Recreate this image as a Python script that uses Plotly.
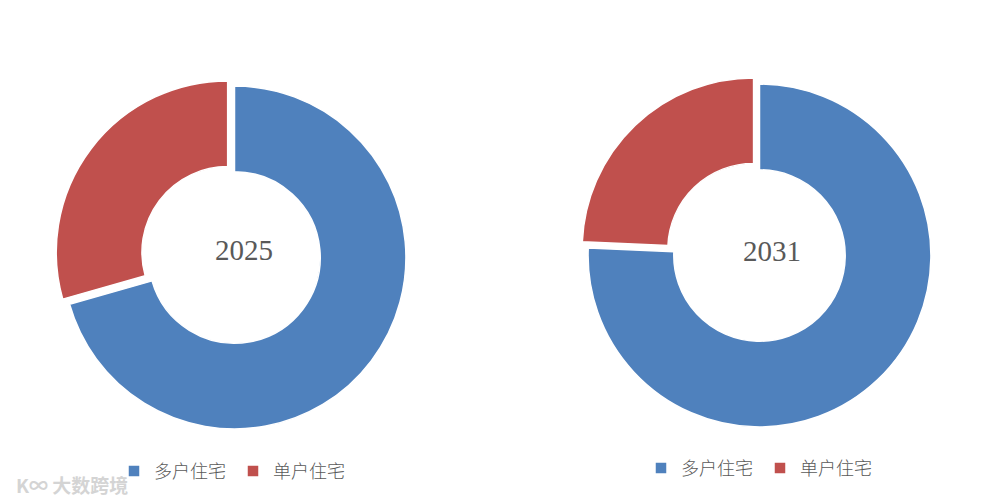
import plotly.graph_objects as go

labels_2025 = ["多户住宅", "单户住宅"]
labels_2031 = ["多户住宅\u200b", "单户住宅\u200b"]
values_2025 = [70.6, 29.4]
values_2031 = [75.7, 24.3]
years = ["2025", "2031"]
colors = ["#4F81BD", "#C0504D"]

W, H = 988, 502


def dom(cx, cy, half):
    return dict(x=[(cx - half) / W, (cx + half) / W],
                y=[1 - (cy + half) / H, 1 - (cy - half) / H])


common = dict(
    hole=0.5,
    sort=False,
    direction="clockwise",
    rotation=0,
    pull=[0, 0.05],
    textinfo="none",
    hoverinfo="label+percent",
    marker=dict(colors=colors, line=dict(color="white", width=1.5)),
)

fig = go.Figure()
fig.add_trace(go.Pie(labels=labels_2025, values=values_2025, name=years[0],
                     domain=dom(226.5, 249.5, 180), legend="legend", **common))
fig.add_trace(go.Pie(labels=labels_2031, values=values_2031, name=years[1],
                     domain=dom(751.5, 247.5, 180), legend="legend2", **common))

legend_font = dict(family="Noto Sans CJK SC", size=18, color="#595959", weight=300)
fig.update_layout(
    width=W, height=H,
    margin=dict(l=0, r=0, t=0, b=0),
    paper_bgcolor="white",
    plot_bgcolor="white",
    showlegend=True,
    legend=dict(orientation="h", x=106 / W, y=0.077, xanchor="left", yanchor="middle",
                font=legend_font, entrywidth=74, entrywidthmode="pixels",
                bgcolor="rgba(0,0,0,0)"),
    legend2=dict(orientation="h", x=633 / W, y=0.083, xanchor="left", yanchor="middle",
                 font=legend_font, entrywidth=74, entrywidthmode="pixels",
                 bgcolor="rgba(0,0,0,0)"),
    annotations=[
        dict(text=years[0], x=236 / W, y=1 - 242 / H, xref="paper", yref="paper",
             xanchor="center", yanchor="middle", showarrow=False,
             font=dict(family="Liberation Serif", size=29, color="#595959")),
        dict(text=years[1], x=764 / W, y=1 - 243 / H, xref="paper", yref="paper",
             xanchor="center", yanchor="middle", showarrow=False,
             font=dict(family="Liberation Serif", size=29, color="#595959")),
        dict(text="<b>K∞ 大数跨境</b>", x=6 / W, y=1 - 476 / H, xref="paper", yref="paper",
             xanchor="left", yanchor="middle", showarrow=False,
             font=dict(family="Noto Sans CJK SC", size=19, color="#d4d4d4")),
    ],
)

fig.write_html("out.html")
